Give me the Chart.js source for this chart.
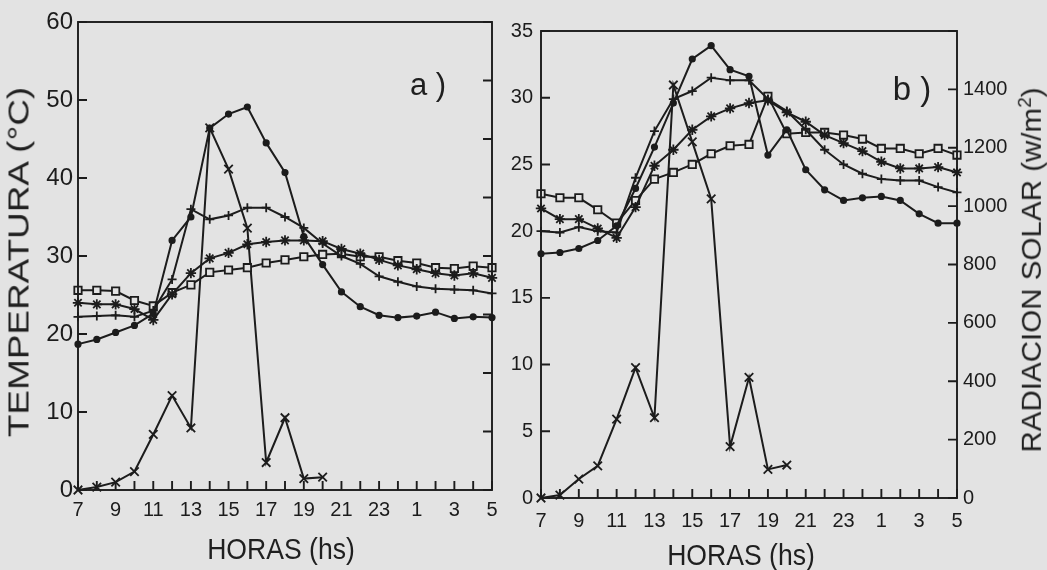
<!DOCTYPE html>
<html lang="es">
<head>
<meta charset="utf-8">
<script src="https://cdn.jsdelivr.net/npm/chart.js@4.4.1/dist/chart.umd.min.js"></script>
<style>
  body { margin:0; width:1047px; height:570px; background:#e3e3e3; position:relative; overflow:hidden;
         font-family:"Liberation Sans", Arial, sans-serif; color:#1f1f1f; }
  canvas { position:absolute; left:0; top:0; }
  .txt { position:absolute; white-space:nowrap; line-height:1; }
</style>
</head>
<body>
<canvas id="graficoA" width="1047" height="570"></canvas>
<canvas id="graficoB" width="1047" height="570"></canvas>

<div class="txt" data-cx="19" data-cy="262" data-rot="1" data-len="350" style="font-size:29px">TEMPERATURA (°C)</div>
<div class="txt" data-cx="1031" data-cy="270" data-rot="1" data-len="365" style="font-size:28px">RADIACION SOLAR (w/m<sup style="font-size:18px">2</sup>)</div>
<div class="txt" data-cx="281" data-cy="549" data-len="148" style="font-size:30px">HORAS (hs)</div>
<div class="txt" data-cx="741" data-cy="555" data-len="148" style="font-size:30px">HORAS (hs)</div>
<div class="txt" data-cx="428" data-cy="84" style="font-size:31px">a )</div>
<div class="txt" data-cx="912" data-cy="88" style="font-size:33px">b )</div>

<script>
// horas de medición (7 h de un día a 5 h del siguiente)
const horas = ['7','8','9','10','11','12','13','14','15','16','17','18','19','20','21','22','23','0','1','2','3','4','5'];

// a) temperaturas (°C) por profundidad
const tempA_punto    = [18.7,19.3,20.2,21.1,22.6,32.0,35.0,46.4,48.2,49.1,44.5,40.7,32.5,28.9,25.4,23.5,22.4,22.1,22.3,22.8,22.0,22.2,22.1];
const tempA_cruz     = [22.2,22.3,22.4,22.2,23.0,27.0,36.0,34.7,35.2,36.2,36.2,35.0,33.6,31.6,30.0,29.0,27.4,26.7,26.1,25.8,25.7,25.6,25.2];
const tempA_estrella = [24.0,23.8,23.8,23.2,21.8,25.1,27.8,29.7,30.4,31.5,31.8,32.0,32.0,31.9,30.9,30.3,29.5,28.8,28.3,27.8,27.5,27.8,27.2];
const tempA_cuadrado = [25.6,25.6,25.5,24.3,23.6,25.3,26.3,27.9,28.2,28.5,29.1,29.5,29.9,30.2,30.3,29.9,29.9,29.4,29.1,28.5,28.4,28.7,28.5];
// a) radiación solar (w/m2)
const radA = [0,10,27,63,190,323,212,1238,1097,895,94,247,39,44,null,null,null,null,null,null,null,null,null];

// b) temperaturas (°C) por profundidad
const tempB_punto    = [18.3,18.4,18.7,19.3,20.4,23.2,26.3,29.6,32.9,33.9,32.1,31.6,25.7,27.6,24.6,23.1,22.3,22.5,22.6,22.3,21.3,20.6,20.6];
const tempB_cruz     = [20.0,19.9,20.3,20.0,19.9,24.0,27.5,29.9,30.5,31.5,31.3,31.3,29.9,29.0,27.6,26.1,25.0,24.3,23.9,23.8,23.8,23.3,22.9];
const tempB_estrella = [21.7,20.9,20.9,20.2,19.5,21.8,24.9,26.1,27.6,28.6,29.2,29.6,29.8,28.9,28.2,27.2,26.6,26.0,25.2,24.7,24.7,24.8,24.4];
const tempB_cuadrado = [22.8,22.5,22.5,21.6,20.6,22.3,23.9,24.4,25.0,25.8,26.4,26.5,30.1,27.3,27.4,27.4,27.2,26.9,26.2,26.2,25.8,26.2,25.7];
// b) radiación solar (w/m2)
const radB = [0,10,65,110,270,447,275,1415,1220,1025,176,413,98,113,null,null,null,null,null,null,null,null,null];

const tinta = '#1c1c1c';
const fondo = '#e3e3e3';

function serie(datos, estilo, eje) {
  const base = {
    data: datos, yAxisID: eje, borderColor: tinta, borderWidth: 2,
    pointBorderColor: tinta, pointBorderWidth: 1.8, pointBackgroundColor: fondo,
    tension: 0, clip: false, spanGaps: false
  };
  if (estilo === 'punto') return { ...base, pointStyle: 'circle', pointRadius: 2.7, pointBackgroundColor: tinta };
  if (estilo === 'cruz') return { ...base, pointStyle: 'cross', pointRadius: 4.5 };
  if (estilo === 'estrella') return { ...base, pointStyle: 'star', pointRadius: 5.2 };
  if (estilo === 'cuadrado') return { ...base, pointStyle: 'rect', pointRadius: 5.2 };
  return { ...base, pointStyle: 'crossRot', pointRadius: 6 };
}

// marco completo y marcas de escala hacia adentro
const marcasInternas = {
  id: 'marcasInternas',
  afterDraw(chart) {
    const { ctx, chartArea: a, scales } = chart;
    ctx.save();
    ctx.strokeStyle = tinta;
    ctx.lineWidth = 1.9;
    ctx.strokeRect(a.left, a.top, a.right - a.left, a.bottom - a.top);
    ctx.beginPath();
    scales.x.ticks.forEach((t, i) => {
      const px = scales.x.getPixelForTick(i);
      ctx.moveTo(px, a.bottom); ctx.lineTo(px, a.bottom - 9);
    });
    scales.y.ticks.forEach((t, i) => {
      const py = scales.y.getPixelForTick(i);
      ctx.moveTo(a.left, py); ctx.lineTo(a.left + 9, py);
    });
    scales.y2.ticks.forEach((t, i) => {
      const py = scales.y2.getPixelForTick(i);
      ctx.moveTo(a.right, py); ctx.lineTo(a.right - 9, py);
    });
    ctx.stroke();
    ctx.restore();
  }
};

function ejeX(tam, pad, alto) {
  return {
    type: 'category', offset: false,
    grid: { display: false, drawTicks: false }, border: { display: false },
    ticks: {
      autoSkip: false, maxRotation: 0, padding: pad, color: tinta,
      font: { family: 'Liberation Sans', size: tam },
      callback: v => (parseInt(horas[v]) % 2 ? horas[v] : '')
    },
    afterFit: s => { s.height = alto; }
  };
}

function crearGrafico(id, series, opc) {
  return new Chart(document.getElementById(id), {
    type: 'line',
    data: { labels: horas, datasets: series },
    options: {
      responsive: false, animation: false,
      layout: { padding: opc.padding },
      plugins: { legend: { display: false }, tooltip: { enabled: false } },
      scales: {
        x: ejeX(20, opc.padX, 50),
        y: {
          position: 'left', min: 0, max: opc.maxT, grid: { display: false, drawTicks: false }, border: { display: false },
          ticks: { stepSize: opc.pasoT, padding: opc.padY, color: tinta, font: { family: 'Liberation Sans', size: opc.tamY } },
          afterFit: s => { s.width = opc.anchoY; }
        },
        y2: {
          position: 'right', min: 0, max: 1600, grid: { display: false, drawTicks: false }, border: { display: false },
          ticks: {
            display: opc.etiquetasRad, stepSize: 200, padding: 6, color: tinta,
            font: { family: 'Liberation Sans', size: 20 },
            callback: v => (v >= 1600 ? '' : v)
          },
          afterFit: s => { s.width = opc.anchoY2; }
        }
      }
    },
    plugins: [marcasInternas]
  });
}

crearGrafico('graficoA', [
  serie(tempA_punto, 'punto', 'y'),
  serie(tempA_cruz, 'cruz', 'y'),
  serie(tempA_estrella, 'estrella', 'y'),
  serie(tempA_cuadrado, 'cuadrado', 'y'),
  serie(radA, 'equis', 'y2')
], { padding: { left: 28, right: 549, top: 22, bottom: 30 }, maxT: 60, pasoT: 10, tamY: 24, padY: 5,
     anchoY: 50, anchoY2: 6, etiquetasRad: false, padX: 8 });

crearGrafico('graficoB', [
  serie(tempB_punto, 'punto', 'y'),
  serie(tempB_cruz, 'cruz', 'y'),
  serie(tempB_estrella, 'estrella', 'y'),
  serie(tempB_cuadrado, 'cuadrado', 'y'),
  serie(radB, 'equis', 'y2')
], { padding: { left: 501, right: 20, top: 31, bottom: 22 }, maxT: 35, pasoT: 5, tamY: 20, padY: 8,
     anchoY: 40, anchoY2: 70, etiquetasRad: true, padX: 11 });

// textos de ejes: centrados, girados y ajustados al largo del original
document.querySelectorAll('.txt').forEach(el => {
  const k = el.dataset.len ? el.dataset.len / el.offsetWidth : 1;
  const giro = el.dataset.rot ? ' rotate(-90deg)' : '';
  el.style.left = el.dataset.cx + 'px';
  el.style.top = el.dataset.cy + 'px';
  el.style.transform = 'translate(-50%,-50%)' + giro + ' scale(' + k + ',1)';
});
</script>
</body>
</html>
